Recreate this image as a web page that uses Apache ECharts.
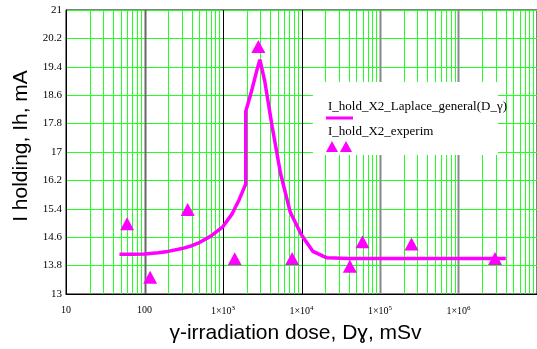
<!DOCTYPE html>
<html>
<head>
<meta charset="utf-8">
<script src="https://cdn.jsdelivr.net/npm/echarts@6/dist/echarts.min.js"></script>
<style>
  html, body { margin: 0; padding: 0; background: #fff; }
  #chart { width: 537px; height: 349px; }
</style>
</head>
<body>
<div id="chart"></div>
<script>
// model curve, dose (mSv) vs holding current (mA)
const curveDose = [48, 70, 100, 150, 200, 300, 400, 500, 700, 1000, 1300, 1600, 1950, 1950, 2300, 2700, 2950, 3400, 4240, 5400, 7200, 10000, 14000, 21000, 40000, 4000000];
const curveI = [14.12, 14.12, 14.13, 14.16, 14.2, 14.28, 14.36, 14.45, 14.63, 14.9, 15.25, 15.65, 16.1, 18.15, 18.7, 19.3, 19.6, 19.0, 17.7, 16.4, 15.3, 14.66, 14.2, 14.02, 14.0, 14.0];

// experiment points
const expDose = [60, 118, 355, 1410, 2820, 7600, 41300, 59800, 252000, 2920000];
const expI = [14.98, 13.47, 15.38, 13.99, 19.97, 14.0, 13.78, 14.47, 14.41, 14.0];

const yTicks = [13, 13.8, 14.6, 15.4, 16.2, 17, 17.8, 18.6, 19.4, 20.2, 21];
const decades = [10, 100, 1000, 10000, 100000, 1000000];

const MAGENTA = '#ff00ff';
const GREEN = '#22ff22';

// decade line colours (10 sits on the axis line)
const decadeColor = { 100: '#666', 1000: '#000', 10000: '#000', 100000: '#888', 1000000: '#888' };

// vertical grid positions: 2..9 of each decade plus the decades
const vGrid = [];
decades.forEach((d) => {
  for (let k = 2; k <= 9; k++) vGrid.push(k * d);
  if (d > 10) vGrid.push(d);
});

const chart = echarts.init(document.getElementById('chart'));

chart.setOption({
  animation: false,
  backgroundColor: '#fff',
  grid: {
    left: 66,
    top: 10,
    right: -2,
    bottom: 51,
    show: true,
    borderColor: '#000',
    borderWidth: 1,
    backgroundColor: '#fff'
  },
  xAxis: {
    type: 'log',
    logBase: 10,
    min: 10,
    max: 10000000,
    name: 'γ-irradiation dose, Dɣ, mSv',
    nameLocation: 'middle',
    nameGap: 29,
    nameTextStyle: {
      fontFamily: 'Liberation Sans',
      fontSize: 21,
      color: '#000',
      padding: [0, 12, 0, 0]
    },
    axisLine: { lineStyle: { color: '#000', width: 1 } },
    axisTick: { show: false },
    splitLine: { show: false },
    axisLabel: {
      showMaxLabel: false,
      margin: 11,
      fontFamily: 'Liberation Serif',
      fontSize: 10,
      color: '#000',
      formatter: (v) => {
        if (v < 1000) return String(v);
        return '1×10{s|' + Math.round(Math.log10(v)) + '}';
      },
      rich: {
        s: { fontFamily: 'Liberation Serif', fontSize: 7, color: '#000', padding: [0, 0, 6, 0] }
      }
    }
  },
  yAxis: {
    type: 'value',
    min: 13,
    max: 21,
    name: 'I holding, Ih, mA',
    nameLocation: 'middle',
    nameGap: 33,
    nameTextStyle: {
      fontFamily: 'Liberation Sans',
      fontSize: 21,
      color: '#000',
      padding: [0, 0, 0, 12]
    },
    axisLine: { show: true, lineStyle: { color: '#000', width: 1 } },
    axisTick: { show: false, customValues: yTicks },
    axisLabel: {
      customValues: yTicks,
      margin: 4,
      fontFamily: 'Liberation Serif',
      fontSize: 11,
      color: '#000',
      formatter: (v) => String(Math.round(v * 10) / 10)
    },
    splitLine: { show: true, lineStyle: { color: GREEN, width: 1 } }
  },
  series: [
    {
      // vertical log grid, snapped to whole pixels
      type: 'custom',
      silent: true,
      z: 1,
      data: vGrid.map((v) => [v, 13]),
      encode: { x: 0, y: 1 },
      renderItem: (params, api) => {
        const v = api.value(0);
        const px = Math.round(api.coord([v, 13])[0]) + 0.5;
        const cs = params.coordSys;
        const major = decadeColor[v];
        return {
          type: 'line',
          shape: { x1: px, y1: cs.y, x2: px, y2: cs.y + cs.height },
          style: { stroke: major || GREEN, lineWidth: major && major !== '#000' ? 2 : 1 }
        };
      }
    },
    {
      name: 'I_hold_X2_Laplace_general(D_γ)',
      type: 'line',
      z: 3,
      data: curveDose.map((d, i) => [d, curveI[i]]),
      showSymbol: false,
      smooth: false,
      lineStyle: { color: MAGENTA, width: 3.5 },
      itemStyle: { color: MAGENTA }
    },
    {
      name: 'I_hold_X2_experim',
      type: 'scatter',
      z: 4,
      symbol: 'triangle',
      symbolSize: [14, 13],
      data: expDose.map((d, i) => [d, expI[i]]),
      itemStyle: { color: MAGENTA, opacity: 1 }
    }
  ],
  graphic: [
    {
      type: 'group',
      left: 313,
      top: 82,
      z: 100,
      children: [
        { type: 'rect', z: 100, shape: { x: 0, y: 0, width: 185, height: 73 }, style: { fill: '#fff' } },
        {
          type: 'text', z: 101, x: 15, y: 25,
          style: { text: 'I_hold_X2_Laplace_general(D_γ)', font: '13px "Liberation Serif"', fill: '#000', verticalAlign: 'middle' }
        },
        { type: 'line', z: 101, shape: { x1: 13, y1: 36, x2: 40, y2: 36 }, style: { stroke: MAGENTA, lineWidth: 3 } },
        {
          type: 'text', z: 101, x: 15, y: 50,
          style: { text: 'I_hold_X2_experim', font: '13px "Liberation Serif"', fill: '#000', verticalAlign: 'middle' }
        },
        { type: 'polygon', z: 101, shape: { points: [[19, 59], [13, 70], [25, 70]] }, style: { fill: MAGENTA } },
        { type: 'polygon', z: 101, shape: { points: [[33, 59], [27, 70], [39, 70]] }, style: { fill: MAGENTA } }
      ]
    }
  ]
});

window.addEventListener('resize', () => chart.resize());
</script>
</body>
</html>
